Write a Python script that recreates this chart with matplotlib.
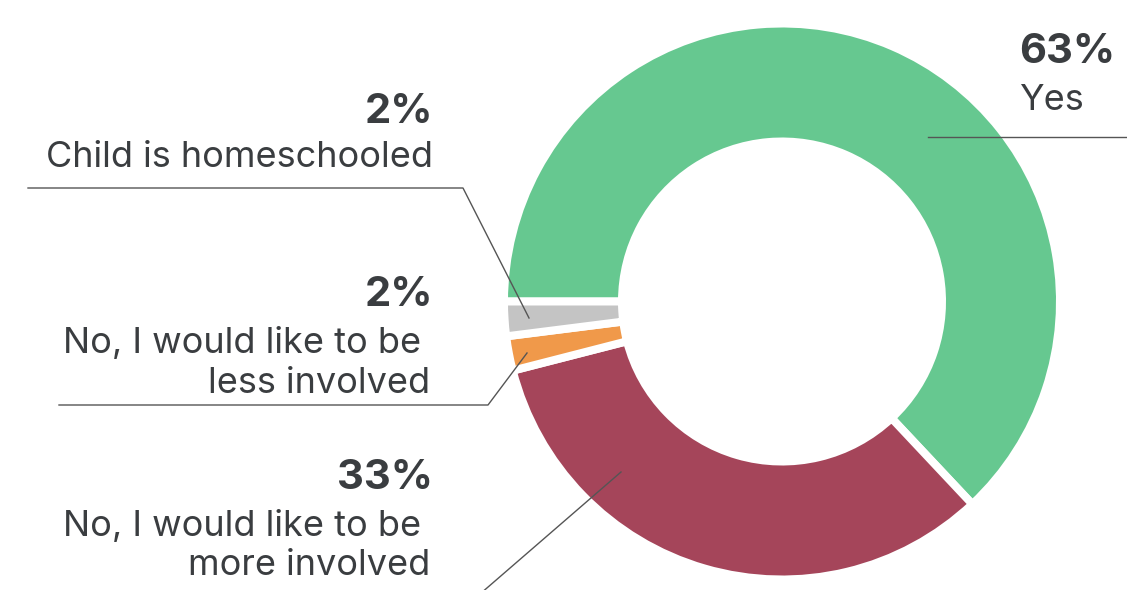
import matplotlib
matplotlib.use("Agg")
import matplotlib.pyplot as plt

# ---- data ----
categories = ["Yes",
              "No, I would like to be\nmore involved",
              "No, I would like to be\nless involved",
              "Child is homeschooled"]
values = [63, 33, 2, 2]
pct_labels = ["63%", "33%", "2%", "2%"]
colors = ["#66C890", "#A5455A", "#F0994A", "#C4C4C4"]

TEXT = "#3A3D40"
LINE = "#555555"
FONT = "Inter"
DPI = 100
W, H = 1127, 590

fig = plt.figure(figsize=(W / DPI, H / DPI), dpi=DPI)
ax = fig.add_axes([0, 0, 1, 1])

px2pt = 72.0 / DPI
ax.pie(values, colors=colors, startangle=180, counterclock=True,
       center=(782, 301.5), radius=278,
       wedgeprops=dict(width=118, edgecolor="white", linewidth=8 * px2pt))
ax.set_xlim(0, W)
ax.set_ylim(H, 0)
ax.set_aspect("auto")
ax.axis("off")

pct_size = 30
lab_size = 26

def put(x, y, s, ha, bold=False, size=lab_size):
    ax.text(x, y, s, ha=ha, va="baseline", fontsize=size, color=TEXT,
            family=FONT, fontweight="bold" if bold else "normal")

# Yes
put(1019, 63, pct_labels[0], "left", bold=True, size=pct_size)
put(1019, 110, categories[0], "left")
# Child is homeschooled
put(433, 123, pct_labels[3], "right", bold=True, size=pct_size)
put(433, 167, categories[3], "right")
# less involved
l1, l2 = categories[2].split("\n")
put(433, 306, pct_labels[2], "right", bold=True, size=pct_size)
put(421, 353, l1, "right")
put(430, 393, l2, "right")
# more involved
m1, m2 = categories[1].split("\n")
put(433, 489, pct_labels[1], "right", bold=True, size=pct_size)
put(421, 536, m1, "right")
put(430, 575, m2, "right")

# leader lines
lw = 1.0
ax.plot([928, 1127], [137, 137], color=LINE, lw=lw)
ax.plot([28, 463, 529], [188, 188, 318], color=LINE, lw=lw)
ax.plot([59, 488, 527], [405, 405, 353], color=LINE, lw=lw)
ax.plot([480, 621], [594, 472], color=LINE, lw=lw)

fig.savefig("out.png", dpi=DPI, facecolor="white")
